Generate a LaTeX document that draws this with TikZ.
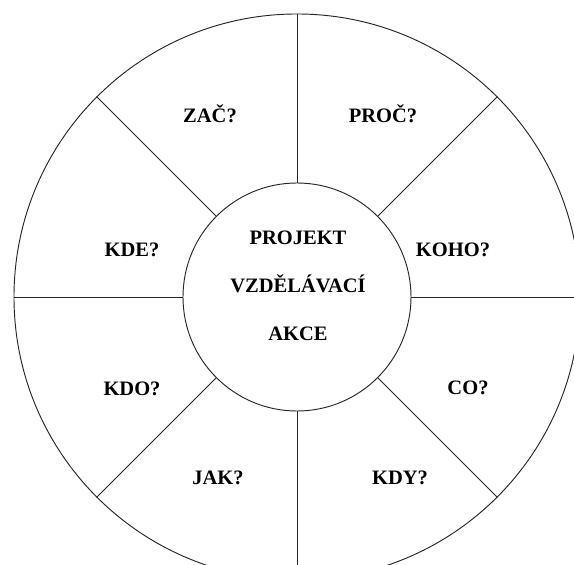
\documentclass[tikz,border=0pt]{standalone}
\usepackage{fontspec}
\setmainfont{Liberation Serif}
\usepackage{tikz}

\begin{document}
\begin{tikzpicture}[x=0.03cm, y=-0.03cm, line width=0.8pt,
    ring/.style={draw=black!85, circle, inner sep=0pt},
    word/.style={font=\fontsize{17.5}{20}\selectfont\bfseries}]
  \path[use as bounding box, clip] (0,0) rectangle (574,565);

  \node[ring, minimum size=16.98cm] (rim) at (297,297) {};
  \node[ring, minimum size=6.84cm] (hub) at (297,297) {};

  \node[word, align=center] (title) at (298,286)
    {PROJEKT\\[21pt]VZDĚLÁVACÍ\\[21pt]AKCE};

  % spokes
  \draw[black!85] (hub.0) to (rim.0);
  \draw[black!85] (hub.45) to (rim.45);
  \draw[black!85] (hub.90) to (rim.90);
  \draw[black!85] (hub.135) to (rim.135);
  \draw[black!85] (hub.180) to (rim.180);
  \draw[black!85] (hub.225) to (rim.225);
  \draw[black!85] (hub.270) to (rim.270);
  \draw[black!85] (hub.315) to (rim.315);

  % questions
  \node[word] (zac) at (210,114) {ZAČ?};
  \node[word] (proc) at (383,114) {PROČ?};
  \node[word] (kde) at (132,250) {KDE?};
  \node[word] (koho) at (453,250) {KOHO?};
  \node[word] (kdo) at (132,389) {KDO?};
  \node[word] (co) at (468,388) {CO?};
  \node[word] (jak) at (218,478) {JAK?};
  \node[word] (kdy) at (400,478) {KDY?};
\end{tikzpicture}
\end{document}
